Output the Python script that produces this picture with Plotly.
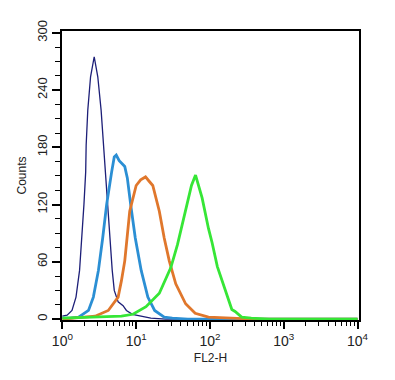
import plotly.graph_objects as go

# FL2-H values (linear) and counts
navy_x = [1, 1.16, 1.35, 1.53, 1.71, 1.84, 1.96, 2.07, 2.10, 2.21, 2.41, 2.70, 2.82, 3.02, 3.35, 3.60, 3.85, 4.11, 4.42, 4.74, 5.05, 5.70, 6.65, 7.38, 8.91, 11.5, 15.8, 25.1, 10000]
navy_y = [3, 4, 9, 23, 51, 85, 120, 154, 182, 219, 254, 275, 266, 254, 219, 182, 150, 120, 85, 51, 30, 18, 14, 9, 5, 3, 1, 0, 0]

blue_x = [1, 1.26, 1.66, 2.26, 2.63, 3.08, 3.52, 3.98, 4.65, 5.05, 5.37, 5.89, 6.61, 7.01, 7.38, 7.59, 8.43, 9.73, 11.7, 14.4, 17.8, 24.0, 30.9, 50.1, 10000]
blue_y = [1, 1, 2, 9, 23, 51, 85, 120, 154, 170, 172, 166, 162, 160, 152, 148, 120, 85, 51, 23, 9, 2, 1, 0, 0]

orange_x = [1, 1.58, 2.78, 4.19, 5.70, 6.31, 7.01, 8.18, 10, 11.5, 13.4, 14.8, 16.8, 20.6, 24.0, 28.1, 34.4, 46.8, 63.1, 95.5, 200, 398, 10000]
orange_y = [0, 1, 3, 9, 23, 40, 61, 113, 140, 146, 149, 145, 140, 113, 85, 61, 37, 16, 6, 2, 1, 0, 0]

green_x = [1, 3.16, 6.31, 9.06, 13.6, 20.6, 29.5, 36.3, 46.8, 56.2, 63.8, 78.3, 95.5, 107, 126, 161, 198, 219, 269, 363, 631, 10000]
green_y = [1, 2, 3, 5, 13, 27, 54, 78, 113, 140, 151, 127, 95, 80, 55, 30, 10, 8, 2, 1, 0, 0]

x_tickvals = [1, 10, 100, 1000, 10000]
x_ticktext = ["10<sup>0</sup>", "10<sup>1</sup>", "10<sup>2</sup>", "10<sup>3</sup>", "10<sup>4</sup>"]
y_tickvals = [0, 60, 120, 180, 240, 300]

minor_x = [m * d for d in (1, 10, 100, 1000) for m in range(2, 10)]

fig = go.Figure()
series = [
    (navy_x, navy_y, "#1d1f78", 1.3),
    (blue_x, blue_y, "#2b8fd4", 2.8),
    (orange_x, orange_y, "#e0772c", 2.8),
    (green_x, green_y, "#36e636", 2.8),
]
for xs, ys, col, w in series:
    fig.add_trace(go.Scatter(x=xs, y=ys, mode="lines", line=dict(color=col, width=w), showlegend=False))

axis_font = dict(family="Liberation Sans, Arial, sans-serif", size=13, color="#222")
fig.update_layout(
    width=387, height=372,
    margin=dict(l=50, r=36, t=19, b=60),
    paper_bgcolor="white", plot_bgcolor="white",
    font=axis_font,
    xaxis=dict(
        type="log", range=[-0.005, 4.02],
        tickmode="array", tickvals=x_tickvals, ticktext=x_ticktext,
        ticks="outside", ticklen=7, tickwidth=1.5, tickcolor="black",
        showline=True, linecolor="black", linewidth=2, mirror=True,
        showgrid=False, zeroline=False,
        tickfont=dict(size=14, color="#222"),
        minor=dict(tickmode="array", tickvals=minor_x, ticks="outside", ticklen=4, tickwidth=1.2, tickcolor="black", showgrid=False),
        title=dict(text="FL2-H", font=dict(size=12, color="#222"), standoff=6),
    ),
    yaxis=dict(
        range=[-1, 302],
        tickmode="array", tickvals=y_tickvals,
        ticks="outside", ticklen=8, tickwidth=1.5, tickcolor="black",
        tickangle=-90,
        showline=True, linecolor="black", linewidth=2, mirror=True,
        showgrid=False, zeroline=False,
        tickfont=dict(size=13, color="#222"),
        minor=dict(dtick=15, tick0=0, ticks="outside", ticklen=5, tickwidth=1.2, tickcolor="black", showgrid=False),
        title=dict(text="Counts", font=dict(size=12, color="#222"), standoff=6),
    ),
)

fig.write_html("out.html")
